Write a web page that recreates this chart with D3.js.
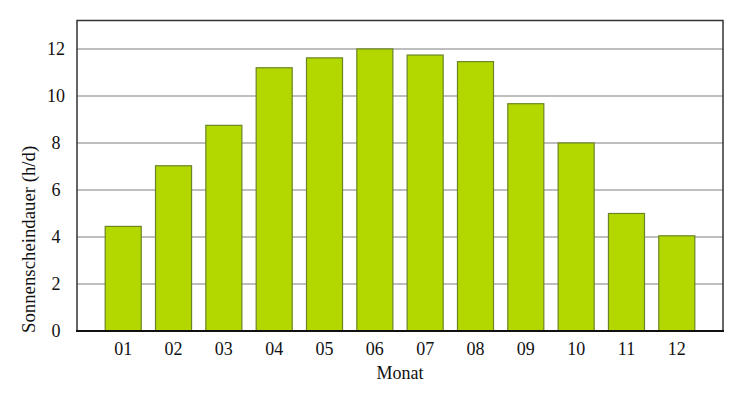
<!DOCTYPE html>
<html>
<head>
<meta charset="utf-8">
<script src="https://cdn.jsdelivr.net/npm/d3@7"></script>
<style>
    body { margin: 0; background: #fff; }
    text { font-family: "Liberation Serif", serif; fill: #111; }
</style>
</head>
<body>
<div id="chart"></div>
<script>
// Monthly sunshine duration
const months = ["01", "02", "03", "04", "05", "06", "07", "08", "09", "10", "11", "12"];
const hours = [4.45, 7.03, 8.75, 11.2, 11.62, 12.0, 11.74, 11.46, 9.67, 8.0, 5.0, 4.05];
const yTicks = [0, 2, 4, 6, 8, 10, 12];

function init() {
    const w = 752;
    const h = 400;
    const left = 77, right = 723, top = 20.5, bottom = 331;

    var svg = d3.select("#chart").append("svg").attr("width", w).attr("height", h);

    // Scales
    var xScale = d3.scaleBand()
        .domain(months)
        .range([left, right])
        .paddingInner(0.284)
        .paddingOuter(0.56);

    var yScale = d3.scaleLinear()
        .domain([0, 13.21])
        .range([bottom, top]);

    // Grid lines
    svg.append("g")
        .selectAll("line")
        .data(yTicks.filter((d) => d > 0))
        .enter()
        .append("line")
        .attr("x1", left)
        .attr("x2", right)
        .attr("y1", (d) => yScale(d))
        .attr("y2", (d) => yScale(d))
        .attr("stroke", "#a9a9a9")
        .attr("stroke-width", 1.6);

    // Bars
    svg.append("g")
        .selectAll("rect")
        .data(months)
        .enter()
        .append("rect")
        .attr("x", (d) => xScale(d))
        .attr("y", (d, i) => yScale(hours[i]))
        .attr("width", xScale.bandwidth())
        .attr("height", (d, i) => yScale(0) - yScale(hours[i]))
        .attr("fill", "#b3d800")
        .attr("stroke", "#6a8524")
        .attr("stroke-width", 1.2);

    // Frame
    svg.append("rect")
        .attr("x", left)
        .attr("y", top)
        .attr("width", right - left)
        .attr("height", bottom - top)
        .attr("fill", "none")
        .attr("stroke", "#333")
        .attr("stroke-width", 1.5);

    svg.append("line")
        .attr("x1", left - 1)
        .attr("x2", right + 1)
        .attr("y1", bottom)
        .attr("y2", bottom)
        .attr("stroke", "#111")
        .attr("stroke-width", 2);

    // Axes (labels only)
    var yAxis = d3.axisLeft(yScale).tickValues(yTicks).tickSize(0).tickPadding(0);
    var yg = svg.append("g")
        .attr("transform", "translate(56,0)")
        .call(yAxis);
    yg.select(".domain").remove();
    yg.selectAll("text")
        .attr("text-anchor", "middle")
        .attr("font-size", 18)
        .style("font-family", "Liberation Serif")
        .attr("fill", "#111");

    var xAxis = d3.axisBottom(xScale).tickSize(0).tickPadding(11);
    var xg = svg.append("g")
        .attr("transform", "translate(0," + bottom + ")")
        .call(xAxis);
    xg.select(".domain").remove();
    xg.selectAll("text")
        .attr("font-size", 18)
        .style("font-family", "Liberation Serif")
        .attr("fill", "#111");

    // Axis titles
    svg.append("text")
        .attr("x", (left + right) / 2)
        .attr("y", 379)
        .attr("text-anchor", "middle")
        .attr("font-size", 18)
        .text("Monat");

    svg.append("text")
        .attr("transform", "translate(35,333) rotate(-90)")
        .attr("text-anchor", "start")
        .attr("font-size", 18.8)
        .text("Sonnenscheindauer (h/d)");
}

window.onload = init();
</script>
</body>
</html>
